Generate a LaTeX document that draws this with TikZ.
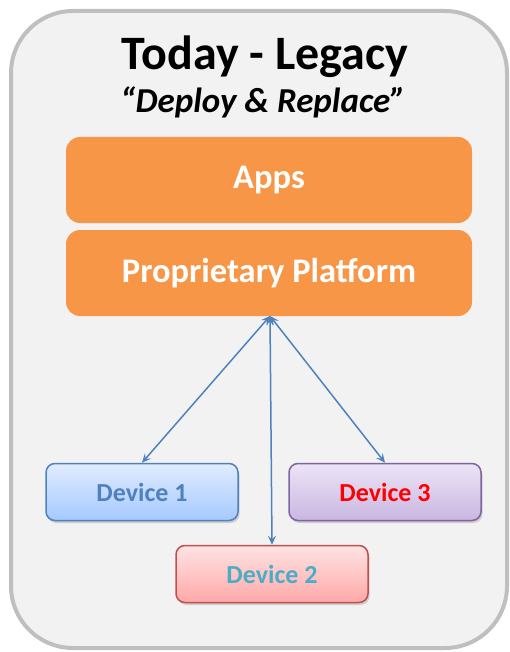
\documentclass[tikz,border=0pt]{standalone}
\usepackage{fontspec}
\setmainfont{Carlito}
\usetikzlibrary{arrows.meta,shadows}
\definecolor{outerfill}{HTML}{F2F2F2}
\definecolor{outerline}{HTML}{BFBFBF}
\definecolor{orangefill}{HTML}{F79646}
\definecolor{arrowblue}{HTML}{4F81BD}
\definecolor{devblueA}{HTML}{E1ECFF}
\definecolor{devblueB}{HTML}{A5C9FF}
\definecolor{devredA}{HTML}{FFE3E3}
\definecolor{devredB}{HTML}{FFA8A8}
\definecolor{devredline}{HTML}{C0504D}
\definecolor{devpurpA}{HTML}{ECE4F6}
\definecolor{devpurpB}{HTML}{C9B6E1}
\definecolor{devpurpline}{HTML}{8064A2}
\definecolor{devtwotext}{HTML}{4BACC6}
\tikzset{
  layerbox/.style={rounded corners=14pt, fill=orangefill, draw=none, minimum width=406pt, minimum height=86pt, text=white, font=\bfseries\fontsize{34.5}{38}\selectfont},
  devbox/.style={rounded corners=9pt, line width=1.5pt, minimum width=192pt, minimum height=57pt, font=\bfseries\fontsize{26}{30}\selectfont,
    drop shadow={shadow xshift=1.5pt, shadow yshift=-2.5pt, opacity=0.25, fill=black!60}},
  link/.style={draw=arrowblue, line width=1.5pt, {Stealth[length=9pt,width=8pt,inset=3.5pt]}-{Stealth[length=9pt,width=8pt,inset=3.5pt]}}
}
\begin{document}
\begin{tikzpicture}[x=1pt,y=-1pt]
\useasboundingbox (0,0) rectangle (510,652);
\draw[fill=outerfill, draw=outerline, line width=4pt, rounded corners=62pt] (11,11) rectangle (507,648);
\node[font=\bfseries\fontsize{48}{52}\selectfont] (title) at (265,57) {Today - Legacy};
\node[font=\bfseries\itshape\fontsize{35}{40}\selectfont] (sub) at (263,102) {“Deploy \& Replace”};
\node[layerbox] (apps) at (269,180) {Apps};
\node[layerbox] (plat) at (269,273) {Proprietary Platform};
\coordinate (hub) at (270,316);
\node[devbox, top color=devblueA, bottom color=devblueB, draw=arrowblue, text=arrowblue] (d1) at (142,492) {Device 1};
\node[devbox, top color=devpurpA, bottom color=devpurpB, draw=devpurpline, text=red] (d3) at (385,492) {Device 3};
\node[devbox, top color=devredA, bottom color=devredB, draw=devredline, text=devtwotext] (d2) at (272,574) {Device 2};
\draw[link] (hub) -- (d1.north);
\draw[link] (hub) -- (d2.north);
\draw[link] (hub) -- (d3.north);
\end{tikzpicture}
\end{document}
